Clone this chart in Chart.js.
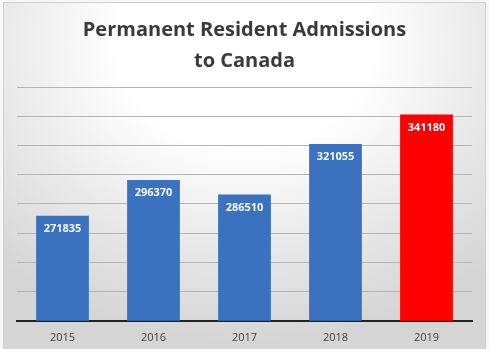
<!DOCTYPE html>
<html>
<head>
<meta charset="utf-8">
<script src="https://cdn.jsdelivr.net/npm/chart.js@4"></script>
<style>
  html, body { margin: 0; padding: 0; background: #f7f7f7; }
  #wrap { position: relative; width: 489px; height: 349px; overflow: hidden; }
  #frame {
    position: absolute; left: 3px; top: 2px; width: 481px; height: 350px;
    border: 1px solid #cfcfcf;
    background: radial-gradient(ellipse 75% 85% at 50% 12%, #ffffff 35%, #e9e9e9 68%, #d5d5d5 100%);
  }
  #chart { position: absolute; left: 0; top: 0; }
</style>
</head>
<body>
<div id="wrap">
  <div id="frame"></div>
  <canvas id="chart" width="489" height="349"></canvas>
</div>
<script>
const years = ["2015", "2016", "2017", "2018", "2019"];
const admissions = [271835, 296370, 286510, 321055, 341180];
const barColors = ["#3b72c0", "#3b72c0", "#3b72c0", "#3b72c0", "#ff0000"];

// white value printed just inside the top of each bar
const valueLabels = {
  id: "valueLabels",
  afterDatasetsDraw(chart) {
    const ctx = chart.ctx;
    const meta = chart.getDatasetMeta(0);
    ctx.save();
    ctx.font = "bold 11px 'Open Sans', sans-serif";
    ctx.fillStyle = "#f4f8ff";
    ctx.textAlign = "center";
    ctx.textBaseline = "middle";
    meta.data.forEach((bar, i) => {
      ctx.fillText(admissions[i], bar.x, bar.y + 13);
    });
    ctx.restore();
  }
};

new Chart(document.getElementById("chart"), {
  type: "bar",
  data: {
    labels: years,
    datasets: [{
      data: admissions,
      backgroundColor: barColors,
      barPercentage: 0.58,
      categoryPercentage: 1
    }]
  },
  options: {
    responsive: false,
    animation: false,
    layout: { padding: { left: 17, right: 17, top: 0, bottom: -5 } },
    plugins: {
      legend: { display: false },
      tooltip: { enabled: false },
      title: {
        display: true,
        text: ["Permanent Resident Admissions", "to Canada"],
        color: "#3a3a3a",
        font: { family: "'Open Sans', sans-serif", size: 20, weight: "bold", lineHeight: 1.55 },
        padding: { top: 15, bottom: 10 }
      }
    },
    scales: {
      x: {
        grid: { display: false, drawTicks: false },
        border: { color: "#222222", width: 2 },
        ticks: { color: "#404040", font: { family: "'Open Sans', sans-serif", size: 11 }, padding: 10 }
      },
      y: {
        min: 200000,
        max: 360000,
        ticks: { display: false, stepSize: 20000 },
        grid: { color: "#b4b4b4", drawTicks: false },
        border: { display: false }
      }
    }
  },
  plugins: [valueLabels]
});
</script>
</body>
</html>
